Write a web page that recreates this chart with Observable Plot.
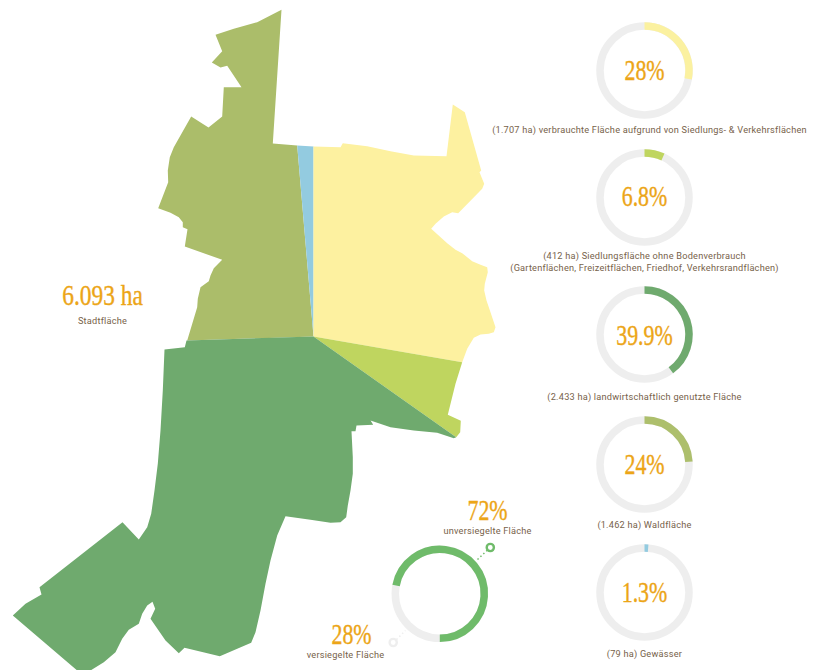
<!DOCTYPE html>
<html>
<head>
<meta charset="utf-8">
<script src="https://cdn.jsdelivr.net/npm/d3@7"></script>
<script src="https://cdn.jsdelivr.net/npm/@observablehq/plot@0.6"></script>
<style>
html,body{margin:0;padding:0;background:#fff;overflow:hidden}
svg{display:block}
</style>
</head>
<body>
<div id="chart"></div>
<script>
// ---------- data ----------
const olive = [[281,9.3],[256.7,21.7],[233.3,28.3],[215,34.3],[221.7,50.7],[211.3,62],[220,67],[226.7,65.3],[241,86.7],[223.3,86.7],[221.7,116],[208,127],[190.7,116],[173.3,146.7],[169.3,156.7],[167.3,170],[167.7,181.7],[157.7,207.7],[170,212.3],[178.3,216.7],[182.3,221.7],[182.3,226.7],[187,228.7],[184.3,246],[221.7,259.3],[213.3,267.7],[210,275],[208.3,280.7],[200,286.7],[197.3,298.3],[196.7,306.7],[186.7,340],[313,336],[296.7,145],[272.3,143]];
const blue = [[296.7,145],[313,146],[313,336]];
const yellow = [[313,146],[340,146.7],[342.3,142.7],[366.7,145.7],[390,150.7],[413.3,155],[446,155.7],[452.3,104],[464.3,111.7],[480.7,170],[479,171.7],[483.7,183.3],[481.7,188.3],[457.7,212.7],[451.7,211.7],[443.3,216],[435,223.3],[430.7,228.3],[446.7,242.7],[455,249.3],[461.7,252.7],[471.7,260.7],[480,264.3],[486.7,266.7],[487.3,271.7],[484.3,283.3],[483.7,290],[486,300],[490,311.7],[495,326.7],[493.3,331.7],[488.3,333.3],[480,334],[473.3,337.3],[466.7,348.3],[461.7,361.7],[313,336]];
const lime = [[313,336],[461.7,361.7],[455,383.3],[447.3,414.3],[460.3,420.3],[459.7,431.7],[455.7,436.7]];
const forest = [[186,340],[184.3,346.7],[164,349],[162.3,390],[160,430],[157.3,463.3],[154,490],[150.7,513.3],[146.7,526.7],[138.3,539],[122,521.7],[39,586.7],[41,594],[25,603.3],[12.3,615],[76.7,670],[90,670],[103.3,661.7],[115,651.7],[121.7,638.3],[128.3,629.3],[138.3,623.3],[141.7,613.3],[146.7,605],[152,601.3],[154.7,608.3],[150,618.3],[165,640],[178.3,652.7],[184,647.3],[219.3,655.7],[250.7,642.3],[255,631.7],[260,610],[265,583.3],[270,560],[276.7,535],[285,515.7],[310,519.3],[330,522.3],[340,521.7],[345.7,516.7],[347.3,505],[350,490],[352.3,473.3],[352.3,456.7],[351,430.7],[355,430.7],[356,425],[372.7,424.3],[370,420],[390,426.7],[413.3,430],[436.7,432.3],[453.3,437.7],[455.7,436.7],[313,336]];

const ringShares = [0.28, 0.068, 0.399, 0.24, 0.013];
const ringValues = ["28%", "6.8%", "39.9%", "24%", "1.3%"];
const sealedShare = 0.28;
const sealedValues = ["72%", "28%"];
const sealedLabels = ["unversiegelte Fläche", "versiegelte Fläche"];
const totalValue = "6.093 ha";
const totalLabel = "Stadtfläche";
const ringCaptions = [
  ["(1.707 ha) verbrauchte Fläche aufgrund von Siedlungs- & Verkehrsflächen"],
  ["(412 ha) Siedlungsfläche ohne Bodenverbrauch", "(Gartenflächen, Freizeitflächen, Friedhof, Verkehrsrandflächen)"],
  ["(2.433 ha) landwirtschaftlich genutzte Fläche"],
  ["(1.462 ha) Waldfläche"],
  ["(79 ha) Gewässer"]
];

// ---------- layout & style ----------
const regions = [
  {pts: olive, fill: "#abbd6a"}, {pts: blue, fill: "#93cbe0"}, {pts: yellow, fill: "#fdf1a0"},
  {pts: lime, fill: "#bfd55f"}, {pts: forest, fill: "#6faa6e"}
];
const ringColors = ["#fbf1a0", "#bfd55f", "#6faa6e", "#adbf6c", "#93cbe0"];
const ringCx = 644, ringY = [70, 197, 334, 464, 592];
const ringR = 44.5, ringW = 7.5;
const valueY = [79.5, 205.5, 344, 473, 601];
const captionPos = [[[649, 132]], [[644, 258.5], [644, 270.5]], [[644, 399]], [[644, 527]], [[644, 656]]];
const track = "#eeeeee", sealedGreen = "#6fbb6a";
const orange = "#eca517", brown = "#77624a";
const bigFont = "'Liberation Serif', serif", smallFont = "Roboto, sans-serif";

// arc symbol: a stroke along the circle, beginning at `start` (share of a turn, from 12 o'clock, clockwise)
const arcSymbol = (start, share) => ({
  draw(ctx, size) {
    const r = Math.sqrt(size / Math.PI);
    const a0 = -Math.PI / 2 + 2 * Math.PI * start;
    ctx.arc(0, 0, r, a0, a0 + 2 * Math.PI * share);
  }
});
const ring = (cx, cy, color, start, share) => [
  Plot.dot([0], {x: () => cx, y: () => cy, r: ringR, stroke: track, strokeWidth: ringW, fill: "none"}),
  Plot.dot([0], {x: () => cx, y: () => cy, r: ringR, stroke: color, strokeWidth: ringW, fill: "none", symbol: arcSymbol(start, share)})
];
const big = (text, x, y, cls = "big") => Plot.text([text], {x: () => x, y: () => y, text: d => d, fontSize: 30, fontFamily: bigFont, fill: orange, stroke: orange, strokeWidth: 0.4, textAnchor: "middle", lineAnchor: "bottom", className: cls});
const small = (text, x, y) => Plot.text([text], {x: () => x, y: () => y, text: d => d, fontSize: 9.2, fontFamily: smallFont, fill: brown, textAnchor: "middle", lineAnchor: "bottom", className: "small"});

const marks = [
  ...regions.map(r => Plot.line(r.pts, {x: d => d[0], y: d => d[1], fill: r.fill, stroke: "none", curve: "linear-closed"})),
  big(totalValue, 102, 304, "bigwide"),
  small(totalLabel, 102, 323),
  ...ringShares.flatMap((s, i) => [
    ...ring(ringCx, ringY[i], ringColors[i], 0, s),
    big(ringValues[i], ringCx, valueY[i]),
    ...ringCaptions[i].map((t, j) => small(t, captionPos[i][j][0], captionPos[i][j][1]))
  ]),
  // sealed / unsealed ring: the sealed part ends at 6 o'clock going clockwise from it
  ...ring(439.3, 593.3, sealedGreen, 0.5 + sealedShare, 1 - sealedShare),
  Plot.link([0], {x1: () => 477, y1: () => 559, x2: () => 487, y2: () => 549.5, stroke: sealedGreen, strokeWidth: 1.5, strokeDasharray: "1.5 2.5"}),
  Plot.link([0], {x1: () => 396, y1: () => 639, x2: () => 405, y2: () => 630, stroke: track, strokeWidth: 1.5, strokeDasharray: "1.5 2.5"}),
  Plot.dot([0], {x: () => 489.8, y: () => 547, r: 3.6, stroke: sealedGreen, strokeWidth: 2.4, fill: "white"}),
  Plot.dot([0], {x: () => 392.7, y: () => 642, r: 3.6, stroke: track, strokeWidth: 2.4, fill: "white"}),
  big(sealedValues[0], 487, 519.5),
  small(sealedLabels[0], 487, 533),
  big(sealedValues[1], 351, 643.5),
  small(sealedLabels[1], 345, 657)
];

const chart = Plot.plot({
  width: 824, height: 670,
  marginTop: 0, marginRight: 0, marginBottom: 0, marginLeft: 0,
  x: {type: "linear", domain: [0, 824], range: [0, 824], axis: null},
  y: {type: "linear", domain: [0, 670], range: [0, 670], axis: null},
  style: {background: "white", overflow: "hidden"},
  marks
});
document.getElementById("chart").appendChild(chart);

// the display numerals are a narrow face: condense the serif to the same width
const condense = (sel, k) => chart.querySelectorAll(sel).forEach(el => {
  el.setAttribute("lengthAdjust", "spacingAndGlyphs");
  el.setAttribute("textLength", el.getComputedTextLength() * k);
});
condense(".big text", 0.73);
condense(".bigwide text", 0.78);
chart.querySelectorAll(".small text").forEach(el => {
  el.style.letterSpacing = "0.22px";
});
</script>
</body>
</html>
